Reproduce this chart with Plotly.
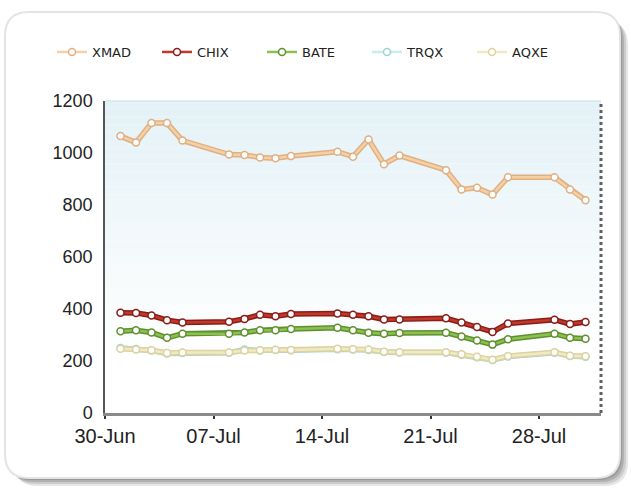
import plotly.graph_objects as go

# trading days, July 2013
dates = ["2013-07-01", "2013-07-02", "2013-07-03", "2013-07-04", "2013-07-05",
         "2013-07-08", "2013-07-09", "2013-07-10", "2013-07-11", "2013-07-12",
         "2013-07-15", "2013-07-16", "2013-07-17", "2013-07-18", "2013-07-19",
         "2013-07-22", "2013-07-23", "2013-07-24", "2013-07-25", "2013-07-26",
         "2013-07-29", "2013-07-30", "2013-07-31"]

xmad = [1065, 1040, 1115, 1115, 1048, 994, 992, 983, 980, 988, 1005, 986,
        1052, 957, 990, 934, 860, 866, 840, 907, 907, 860, 818]
chix = [386, 385, 375, 357, 348, 351, 362, 378, 372, 381, 383, 378,
        372, 360, 360, 364, 348, 331, 312, 344, 359, 342, 350]
bate = [314, 318, 310, 289, 305, 305, 310, 318, 318, 323, 328, 318,
        309, 305, 308, 309, 294, 279, 263, 284, 305, 289, 286]
trqx = [250, 246, 240, 229, 231, 232, 244, 240, 242, 241, 245, 244,
        242, 235, 233, 233, 224, 214, 204, 217, 232, 219, 216]
aqxe = [247, 244, 241, 231, 233, 233, 240, 241, 243, 242, 247, 245,
        244, 236, 234, 234, 226, 216, 205, 219, 234, 220, 218]

series = [
    ("XMAD", xmad, "#dfb083", "#f6d0a4"),
    ("CHIX", chix, "#8a1c18", "#c0392b"),
    ("BATE", bate, "#5f902e", "#8cc152"),
    ("TRQX", trqx, "#9fd2d2", "#c8ecea"),
    ("AQXE", aqxe, "#dcd39e", "#f0eac4"),
]

W, H = 631, 491
L, R, T, B = 105, 30, 101, 78
PW = W - L - R
PH = H - T - B


def px(x):
    return (x - L) / PW


def py(y):
    return (H - B - y) / PH


def rrect(x0, y0, x1, y1, r):
    return (f"M {px(x0 + r)},{py(y0)} L {px(x1 - r)},{py(y0)} "
            f"Q {px(x1)},{py(y0)} {px(x1)},{py(y0 + r)} "
            f"L {px(x1)},{py(y1 - r)} Q {px(x1)},{py(y1)} {px(x1 - r)},{py(y1)} "
            f"L {px(x0 + r)},{py(y1)} Q {px(x0)},{py(y1)} {px(x0)},{py(y1 - r)} "
            f"L {px(x0)},{py(y0 + r)} Q {px(x0)},{py(y0)} {px(x0 + r)},{py(y0)} Z")


fig = go.Figure()

for name, vals, dark, light in series:
    fig.add_trace(go.Scatter(x=dates, y=vals, mode="lines", showlegend=False,
                             hoverinfo="skip",
                             line=dict(color=dark, width=5.5)))
    fig.add_trace(go.Scatter(x=dates, y=vals, name=name, mode="lines+markers",
                             line=dict(color=light, width=2.5),
                             marker=dict(symbol="circle", size=7, color="white",
                                         line=dict(color=dark, width=1.5))))

shapes = []
# card shadow + card
for i, c in enumerate(["#e6e6e6", "#cccccc", "#b0b0b0", "#989898"]):
    o = 9 - i * 2
    shapes.append(dict(type="path", xref="paper", yref="paper", layer="below",
                       path=rrect(5 + o, 12 + o, 620 + o - 1, 478 + o - 1, 24),
                       fillcolor=c, line=dict(width=0)))
shapes.append(dict(type="path", xref="paper", yref="paper", layer="below",
                   path=rrect(5, 12, 620, 478, 24),
                   fillcolor="white", line=dict(color="#e4e4e4", width=2)))

# plot background gradient
n = 40
for i in range(n):
    f = i / (n - 1)
    k = min(1.0, f * 1.25)
    r_ = int(228 + (255 - 228) * k)
    g_ = int(242 + (255 - 242) * k)
    b_ = int(247 + (255 - 247) * k)
    shapes.append(dict(type="rect", xref="paper", yref="paper", layer="below",
                       x0=0, x1=1, y0=1 - (i + 1) / n, y1=1 - i / n,
                       fillcolor=f"rgb({r_},{g_},{b_})", line=dict(width=0)))

# plot frame: top line and dotted right edge
shapes.append(dict(type="line", xref="paper", yref="paper", x0=0, x1=1, y0=1, y1=1,
                   line=dict(color="#c9dde4", width=1)))
shapes.append(dict(type="line", xref="paper", yref="paper", x0=px(601), x1=px(601),
                   y0=0, y1=py(104), line=dict(color="#606060", width=3, dash="dot")))

fig.update_layout(
    width=W, height=H,
    margin=dict(l=L, r=R, t=T, b=B),
    paper_bgcolor="white",
    plot_bgcolor="rgba(0,0,0,0)",
    shapes=shapes,
    font=dict(family="Liberation Sans, Arial, sans-serif", color="#222"),
    legend=dict(orientation="h", x=px(52), y=py(52), xanchor="left", yanchor="middle",
                font=dict(family="DejaVu Sans", size=13, color="#222"),
                entrywidth=60, entrywidthmode="pixels",
                bgcolor="rgba(0,0,0,0)"),
)

fig.update_xaxes(type="date", range=["2013-06-30", "2013-08-01"],
                 tick0="2013-06-30", dtick=7 * 86400000, tickformat="%d-%b",
                 showgrid=False, zeroline=False,
                 showline=True, linecolor="#8a8a8a", linewidth=3,
                 ticks="outside", ticklen=3, tickwidth=2, tickcolor="#333",
                 tickfont=dict(size=20, color="#222"))
fig.update_yaxes(range=[0, 1200], dtick=200, showgrid=False, zeroline=False,
                 showline=True, linecolor="#555", linewidth=1.5,
                 ticks="", ticklabelstandoff=7,
                 tickfont=dict(size=18, color="#222"))

fig.write_html("out.html", config={"displayModeBar": False},
               post_script="document.body.style.margin='0px';")
